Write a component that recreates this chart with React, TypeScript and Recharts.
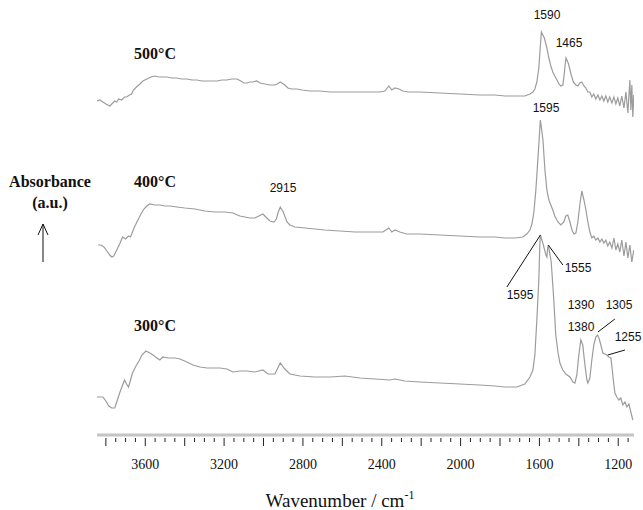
import React from "react";
import { LineChart, Line, XAxis, YAxis, ReferenceLine } from "recharts";

// [wavenumber (cm-1), absorbance (a.u., offset stacked)]
const spectrum500: [number, number][] = [
  [3845, 1.67], [3830, 1.675], [3815, 1.665], [3800, 1.655], [3780, 1.645], [3765, 1.66], [3755, 1.67],
  [3745, 1.665], [3735, 1.68], [3720, 1.675], [3705, 1.69], [3695, 1.69], [3680, 1.7], [3670, 1.705],
  [3660, 1.725], [3645, 1.74], [3627, 1.755], [3612, 1.77], [3592, 1.78], [3571, 1.79], [3551, 1.795],
  [3531, 1.79], [3511, 1.79], [3490, 1.79], [3465, 1.785], [3440, 1.785], [3414, 1.78], [3389, 1.78],
  [3363, 1.775], [3338, 1.775], [3313, 1.77], [3287, 1.77], [3262, 1.77], [3237, 1.77], [3211, 1.775],
  [3186, 1.775], [3160, 1.78], [3135, 1.78], [3115, 1.77], [3100, 1.76], [3084, 1.76], [3069, 1.765],
  [3054, 1.765], [3034, 1.77], [3018, 1.76], [2993, 1.755], [2968, 1.75], [2942, 1.75], [2930, 1.755],
  [2915, 1.765], [2892, 1.75], [2876, 1.735], [2856, 1.73], [2831, 1.73], [2805, 1.725], [2765, 1.72],
  [2714, 1.72], [2663, 1.715], [2612, 1.715], [2562, 1.715], [2511, 1.715], [2460, 1.715], [2410, 1.715],
  [2384, 1.72], [2364, 1.745], [2349, 1.725], [2333, 1.735], [2313, 1.73], [2293, 1.72], [2267, 1.715],
  [2207, 1.715], [2105, 1.71], [2004, 1.705], [1902, 1.7], [1826, 1.7], [1775, 1.695], [1725, 1.695],
  [1674, 1.695], [1648, 1.705], [1633, 1.715], [1623, 1.73], [1613, 1.765], [1603, 1.835], [1596, 1.935],
  [1590, 2.015], [1575, 1.985], [1562, 1.935], [1552, 1.885], [1542, 1.845], [1532, 1.815], [1522, 1.795],
  [1511, 1.775], [1501, 1.755], [1491, 1.745], [1481, 1.75], [1474, 1.805], [1468, 1.865], [1465, 1.885],
  [1452, 1.855], [1440, 1.805], [1428, 1.765], [1415, 1.75], [1405, 1.745], [1395, 1.76], [1385, 1.765],
  [1374, 1.745], [1364, 1.735], [1354, 1.715], [1344, 1.715], [1334, 1.69], [1324, 1.705], [1314, 1.68],
  [1303, 1.7], [1293, 1.675], [1283, 1.695], [1273, 1.67], [1263, 1.695], [1253, 1.665], [1243, 1.69],
  [1232, 1.66], [1222, 1.69], [1212, 1.655], [1202, 1.685], [1192, 1.645], [1182, 1.695], [1171, 1.635],
  [1161, 1.715], [1151, 1.61], [1141, 1.775], [1136, 1.625], [1131, 1.75], [1126, 1.59], [1121, 1.7],
];

const spectrum400: [number, number][] = [
  [3840, 0.95], [3825, 0.95], [3810, 0.94], [3795, 0.92], [3780, 0.9], [3770, 0.89], [3760, 0.895],
  [3745, 0.925], [3730, 0.955], [3715, 0.99], [3700, 0.98], [3685, 0.995], [3675, 0.99], [3665, 1.015],
  [3655, 1.04], [3640, 1.07], [3622, 1.105], [3607, 1.13], [3592, 1.145], [3577, 1.155], [3551, 1.15],
  [3526, 1.15], [3500, 1.145], [3475, 1.145], [3440, 1.14], [3399, 1.135], [3348, 1.13], [3297, 1.12],
  [3247, 1.115], [3196, 1.115], [3155, 1.11], [3120, 1.095], [3095, 1.09], [3069, 1.085], [3044, 1.085],
  [3024, 1.095], [3003, 1.105], [2988, 1.09], [2968, 1.07], [2947, 1.065], [2935, 1.08], [2925, 1.115],
  [2915, 1.14], [2900, 1.115], [2881, 1.065], [2866, 1.05], [2841, 1.04], [2790, 1.035], [2739, 1.03],
  [2689, 1.025], [2612, 1.02], [2536, 1.015], [2460, 1.015], [2394, 1.015], [2379, 1.025], [2364, 1.035],
  [2349, 1.015], [2333, 1.025], [2308, 1.015], [2273, 1.005], [2207, 1.005], [2105, 1.0], [2004, 0.995],
  [1902, 0.99], [1826, 0.99], [1775, 0.985], [1725, 0.985], [1684, 0.99], [1664, 1.005], [1648, 1.025],
  [1638, 1.055], [1628, 1.115], [1618, 1.225], [1608, 1.375], [1600, 1.5], [1595, 1.575], [1582, 1.475],
  [1572, 1.325], [1562, 1.225], [1552, 1.175], [1542, 1.15], [1532, 1.125], [1522, 1.095], [1506, 1.065],
  [1491, 1.05], [1476, 1.065], [1466, 1.095], [1456, 1.1], [1445, 1.065], [1435, 1.025], [1425, 1.005],
  [1415, 1.01], [1405, 1.065], [1395, 1.15], [1385, 1.22], [1374, 1.175], [1364, 1.125], [1354, 1.065],
  [1344, 1.015], [1334, 0.985], [1324, 0.995], [1314, 0.975], [1303, 0.985], [1293, 0.965], [1283, 0.98],
  [1273, 0.96], [1263, 0.975], [1253, 0.945], [1243, 0.965], [1232, 0.935], [1222, 0.985], [1212, 0.925],
  [1202, 0.955], [1192, 0.915], [1182, 0.975], [1171, 0.895], [1161, 0.965], [1151, 0.885], [1141, 0.95],
  [1131, 0.865], [1121, 0.925],
];

const spectrum300: [number, number][] = [
  [3845, 0.19], [3830, 0.19], [3815, 0.19], [3800, 0.17], [3785, 0.145], [3770, 0.135], [3755, 0.135],
  [3745, 0.165], [3730, 0.21], [3715, 0.25], [3705, 0.275], [3695, 0.255], [3685, 0.24], [3675, 0.275],
  [3665, 0.31], [3650, 0.34], [3632, 0.37], [3617, 0.4], [3597, 0.42], [3577, 0.41], [3561, 0.4],
  [3541, 0.385], [3526, 0.375], [3511, 0.39], [3485, 0.385], [3450, 0.385], [3424, 0.38], [3389, 0.365],
  [3358, 0.35], [3323, 0.34], [3287, 0.335], [3247, 0.335], [3221, 0.335], [3186, 0.33], [3155, 0.315],
  [3120, 0.32], [3084, 0.32], [3044, 0.315], [3003, 0.325], [2978, 0.305], [2942, 0.305], [2930, 0.33],
  [2915, 0.36], [2892, 0.33], [2866, 0.305], [2815, 0.295], [2739, 0.29], [2663, 0.29], [2587, 0.295],
  [2511, 0.285], [2435, 0.28], [2359, 0.275], [2333, 0.28], [2283, 0.27], [2207, 0.265], [2105, 0.26],
  [2004, 0.255], [1902, 0.25], [1826, 0.245], [1775, 0.24], [1714, 0.24], [1674, 0.255], [1648, 0.29],
  [1633, 0.325], [1623, 0.4], [1613, 0.575], [1603, 0.775], [1598, 0.95], [1595, 1.0], [1580, 0.95],
  [1567, 0.9], [1562, 0.89], [1558, 0.935], [1555, 0.95], [1540, 0.865], [1527, 0.675], [1517, 0.5],
  [1506, 0.415], [1496, 0.36], [1481, 0.325], [1466, 0.305], [1445, 0.29], [1430, 0.265], [1420, 0.26],
  [1410, 0.3], [1400, 0.4], [1390, 0.475], [1380, 0.45], [1369, 0.35], [1359, 0.275], [1354, 0.26],
  [1344, 0.285], [1334, 0.375], [1324, 0.45], [1314, 0.49], [1305, 0.5], [1298, 0.485], [1288, 0.45],
  [1278, 0.41], [1268, 0.405], [1258, 0.4], [1248, 0.39], [1237, 0.385], [1232, 0.34], [1222, 0.25],
  [1217, 0.21], [1207, 0.19], [1197, 0.175], [1187, 0.185], [1177, 0.15], [1166, 0.165], [1156, 0.14],
  [1146, 0.155], [1136, 0.115], [1126, 0.075],
];

const seriesNames = ["500°C", "400°C", "300°C"];
const tickValues: number[] = Array.from({ length: 54 }, (_, i) => 1150 + 50 * i);
const labeledTicks = [3600, 3200, 2800, 2400, 2000, 1600, 1200];

// leader lines for the 300°C peak labels: [from wavenumber, from abs, to wavenumber, to abs]
const leaders: [number, number, number, number][] = [
  [1595, 1.0, 1765, 0.74],
  [1555, 0.95, 1481, 0.85],
  [1217, 0.58, 1303, 0.515],
  [1166, 0.425, 1253, 0.4],
];

const toRows = (s: [number, number][]) => s.map(([w, a]) => ({ w, a }));

const W = 643;
const H = 510;
const serif = "'Liberation Serif', 'Times New Roman', serif";
const sans = "'Liberation Sans', Arial, sans-serif";

const Tick = (props: any) => {
  const { x, y, payload } = props;
  const v = payload.value as number;
  const major = v % 200 === 0;
  const labeled = labeledTicks.includes(v);
  return (
    <g>
      <line x1={x} x2={x} y1={y + 1} y2={y + (major ? 9 : 5)} stroke="#222" strokeWidth={1} />
      {labeled && (
        <text x={x} y={y + 32} textAnchor="middle" fontFamily={serif} fontSize={14} fill="#111">
          {v}
        </text>
      )}
    </g>
  );
};

export default function App() {
  const datasets = [spectrum500, spectrum400, spectrum300];
  return (
    <div
      style={{
        position: "fixed",
        left: 0,
        top: 0,
        width: W,
        height: H,
        overflow: "hidden",
        background: "#fff",
      }}
    >
      <LineChart width={W} height={H} margin={{ top: 15, right: 9, bottom: 35, left: 97 }}>
        <XAxis
          type="number"
          dataKey="w"
          domain={[1120, 3845]}
          reversed
          allowDataOverflow
          ticks={tickValues}
          interval={0}
          tickSize={0}
          tickLine={false}
          axisLine={{ stroke: "#c4c4c4", strokeWidth: 3 }}
          tick={<Tick />}
          height={40}
        />
        <YAxis type="number" domain={[0, 2.1]} hide allowDataOverflow />
        {datasets.map((d, i) => (
          <Line
            key={seriesNames[i]}
            name={seriesNames[i]}
            data={toRows(d)}
            dataKey="a"
            type="linear"
            stroke="#9c9c9c"
            strokeWidth={1.2}
            dot={false}
            isAnimationActive={false}
          />
        ))}
        {leaders.map(([w1, a1, w2, a2], i) => (
          <ReferenceLine
            key={i}
            segment={[{ x: w1, y: a1 }, { x: w2, y: a2 }]}
            stroke="#111"
            strokeWidth={1}
          />
        ))}
      </LineChart>
      <svg
        width={W}
        height={H}
        style={{ position: "absolute", left: 0, top: 0, pointerEvents: "none" }}
      >
        <g fontFamily={serif} fontWeight="bold" fontSize={16} fill="#111" textAnchor="middle">
          <text x={155} y={59}>{seriesNames[0]}</text>
          <text x={155} y={187}>{seriesNames[1]}</text>
          <text x={155} y={331}>{seriesNames[2]}</text>
          <text x={50} y={187}>Absorbance</text>
          <text x={50} y={208}>(a.u.)</text>
        </g>
        <g stroke="#111" strokeWidth={1} fill="none">
          <line x1={43} y1={262} x2={43} y2={224} />
          <polyline points="38,235 43,224 48,235" />
        </g>
        <g fontFamily={sans} fontSize={12} fill="#111" textAnchor="middle">
          <text x={547} y={19}>1590</text>
          <text x={569} y={47}>1465</text>
          <text x={546} y={112}>1595</text>
          <text x={283} y={192}>2915</text>
          <text x={520} y={299}>1595</text>
          <text x={578} y={272}>1555</text>
          <text x={581} y={309}>1390</text>
          <text x={619} y={309}>1305</text>
          <text x={581} y={331}>1380</text>
          <text x={628} y={341}>1255</text>
        </g>
        <text x={340} y={507} fontFamily={serif} fontSize={19} fill="#111" textAnchor="middle">
          Wavenumber / cm
          <tspan dy={-8} fontSize={12}>-1</tspan>
        </text>
      </svg>
    </div>
  );
}
